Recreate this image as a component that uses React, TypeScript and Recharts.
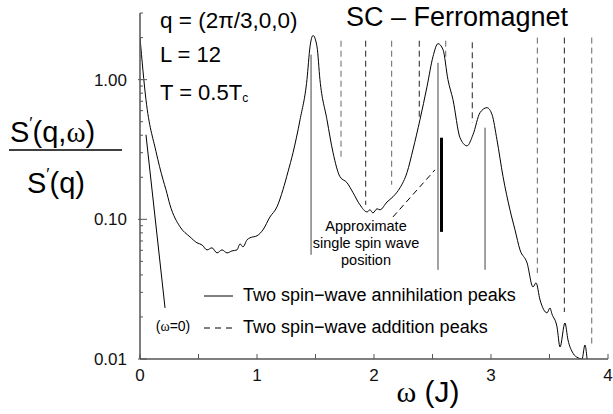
import React from 'react';
import { LineChart, Line, XAxis, YAxis } from 'recharts';

// main spectrum S'(q,w)/S'(q)
const spectrumOmega = [
  0.0, 0.051, 0.137, 0.197, 0.222, 0.256, 0.342, 0.427, 0.487, 0.53, 0.573, 0.615, 0.658, 0.701,
  0.744, 0.786, 0.829, 0.855, 0.88, 0.915, 0.94, 1.0, 1.051, 1.111, 1.171, 1.222, 1.265, 1.308,
  1.368, 1.427, 1.453, 1.479, 1.513, 1.538, 1.598, 1.65, 1.709, 1.769, 1.821, 1.88, 1.94, 1.966,
  1.991, 2.026, 2.051, 2.111, 2.162, 2.222, 2.282, 2.333, 2.393, 2.453, 2.504, 2.547, 2.59, 2.632,
  2.675, 2.735, 2.795, 2.846, 2.906, 2.966, 3.009, 3.051, 3.103, 3.162, 3.205, 3.248, 3.308, 3.359,
  3.385, 3.419, 3.479, 3.504, 3.521, 3.564, 3.59, 3.632, 3.658, 3.701, 3.744, 3.778, 3.803, 3.821,
];
const spectrumValue = [
  2.0, 0.719, 0.305, 0.192, 0.163, 0.127, 0.0884, 0.0749, 0.0679, 0.0656, 0.0604, 0.0625, 0.0575,
  0.0604, 0.0575, 0.0594, 0.0604, 0.0667, 0.0635, 0.0713, 0.0737, 0.0762, 0.0841, 0.104, 0.123,
  0.163, 0.219, 0.3, 0.517, 1.0, 1.72, 2.07, 1.72, 1.0, 0.517, 0.3, 0.202, 0.183, 0.155, 0.127,
  0.113, 0.117, 0.111, 0.119, 0.117, 0.133, 0.145, 0.168, 0.216, 0.315, 0.517, 0.891, 1.46, 1.81,
  1.64, 1.0, 0.719, 0.384, 0.336, 0.403, 0.58, 0.63, 0.561, 0.371, 0.202, 0.117, 0.0841, 0.0604,
  0.0488, 0.0328, 0.0351, 0.0265, 0.0214, 0.0232, 0.021, 0.017, 0.0122, 0.0181, 0.0137, 0.011,
  0.0102, 0.01, 0.0126, 0.01,
];

// w = 0 contribution
const zeroOmega = [0.051, 0.214];
const zeroValue = [0.403, 0.0232];

// two spin-wave annihilation peaks (solid)
const annihilationOmega = [1.462, 2.547, 2.949];
const annihilationTop = [1.51, 1.32, 0.453];
const annihilationBottom = [0.0557, 0.0435, 0.0435];

// two spin-wave addition peaks (dashed)
const additionOmega = [1.718, 1.929, 2.151, 2.387, 2.613, 2.84, 3.396, 3.627, 3.861];
const additionTop = [1.9, 1.9, 1.9, 1.9, 1.9, 1.85, 2.0, 2.0, 2.0];
const additionBottom = [0.281, 0.127, 0.177, 0.543, 1.46, 0.492, 0.0413, 0.0217, 0.0126];

// approximate single spin wave position
const singleSpinOmega = 2.577;
const singleSpinTop = 0.384;
const singleSpinBottom = 0.0813;
const pointerOmega = [2.162, 2.521];
const pointerValue = [0.104, 0.226];

const xTicks = [0, 0.5, 1, 1.5, 2, 2.5, 3, 3.5, 4];
const yMajor = [0.01, 0.1, 1];
const yTicks = [
  0.01, 0.02, 0.03, 0.04, 0.05, 0.06, 0.07, 0.08, 0.09, 0.1, 0.2, 0.3, 0.4, 0.5, 0.6, 0.7, 0.8,
  0.9, 1, 2, 3,
];
const yLabels = ['0.01', '0.10', '1.00'];

const sans = '"Liberation Sans", Arial, sans-serif';
const serif = '"Liberation Serif", "Times New Roman", serif';

const spectrum = spectrumOmega.map((w, i) => ({ w, s: spectrumValue[i] }));
const zeroLine = zeroOmega.map((w, i) => ({ w, s: zeroValue[i] }));
const pointer = pointerOmega.map((w, i) => ({ w, s: pointerValue[i] }));
const vertical = (w: number, top: number, bottom: number) => [
  { w, s: top },
  { w, s: bottom },
];

function YTick(props: any) {
  const { x, y, payload } = props;
  const idx = yMajor.findIndex((v) => Math.abs(v - payload.value) < 1e-9);
  const major = idx >= 0;
  return (
    <g>
      <line x1={x - (major ? 2 : 0)} x2={x + (major ? 7 : 3)} y1={y} y2={y} stroke="#555" strokeWidth={1} />
      {major && (
        <text x={x - 13} y={y} dy={6} textAnchor="end" fontFamily={sans} fontSize={17} fill="#111">
          {yLabels[idx]}
        </text>
      )}
    </g>
  );
}

function XTick(props: any) {
  const { x, y, payload } = props;
  const major = Number.isInteger(payload.value);
  return (
    <g>
      <line x1={x} x2={x} y1={y} y2={y - 5} stroke="#555" strokeWidth={1} />
      {major && (
        <text x={x} y={y + 22} textAnchor="middle" fontFamily={sans} fontSize={17} fill="#111">
          {payload.value}
        </text>
      )}
    </g>
  );
}

export default function App() {
  return (
    <div style={{ position: 'relative', width: 613, height: 414, background: '#fff' }}>
      <style>{'body{margin:0}'}</style>
      <LineChart width={613} height={414} margin={{ top: 13, right: 5, bottom: 25, left: 80 }}>
        <XAxis
          type="number"
          dataKey="w"
          domain={[0, 4]}
          ticks={xTicks}
          height={30}
          tickSize={0}
          tickMargin={0}
          tickLine={false}
          tick={<XTick />}
          stroke="#555"
          strokeWidth={1.5}
          allowDataOverflow
        />
        <YAxis
          type="number"
          dataKey="s"
          scale="log"
          domain={[0.01, 3]}
          ticks={yTicks}
          width={60}
          tickSize={0}
          tickMargin={0}
          tickLine={false}
          tick={<YTick />}
          stroke="#555"
          strokeWidth={1.5}
          allowDataOverflow
          interval={0}
        />
        {annihilationOmega.map((w, i) => (
          <Line
            key={'a' + i}
            data={vertical(w, annihilationTop[i], annihilationBottom[i])}
            dataKey="s"
            stroke="#444"
            strokeWidth={1}
            dot={false}
            isAnimationActive={false}
          />
        ))}
        {additionOmega.map((w, i) => (
          <Line
            key={'d' + i}
            data={vertical(w, additionTop[i], additionBottom[i])}
            dataKey="s"
            stroke={i % 2 === 0 ? '#666' : '#222'}
            strokeWidth={1}
            strokeDasharray="6 4"
            dot={false}
            isAnimationActive={false}
          />
        ))}
        <Line
          data={vertical(singleSpinOmega, singleSpinTop, singleSpinBottom)}
          dataKey="s"
          stroke="#000"
          strokeWidth={3}
          dot={false}
          isAnimationActive={false}
        />
        <Line
          data={pointer}
          dataKey="s"
          stroke="#000"
          strokeWidth={1}
          strokeDasharray="6 4"
          dot={false}
          isAnimationActive={false}
        />
        <Line data={zeroLine} dataKey="s" stroke="#000" strokeWidth={1} dot={false} isAnimationActive={false} />
        <Line
          data={spectrum}
          dataKey="s"
          type="monotone"
          stroke="#000"
          strokeWidth={1}
          dot={false}
          isAnimationActive={false}
        />
      </LineChart>
      <svg
        width={613}
        height={414}
        style={{ position: 'absolute', left: 0, top: 0, pointerEvents: 'none' }}
      >
        <g fontFamily={sans} fill="#000">
          <text x={160} y={28} fontSize={22.5}>
            q = (2π/3,0,0)
          </text>
          <text x={160} y={62} fontSize={22}>
            L = 12
          </text>
          <text x={160} y={100} fontSize={22}>
            T = 0.5T
            <tspan fontSize={12} dy={2}>
              c
            </tspan>
          </text>
          <text x={346} y={26} fontSize={27}>
            SC – Ferromagnet
          </text>

          <text x={10} y={142} fontSize={29}>
            S<tspan fontSize={17} dy={-13}>′</tspan>
            <tspan dy={13}>(q,</tspan>
            <tspan fontFamily={serif}>ω</tspan>)
          </text>
          <line x1={9} x2={122} y1={150} y2={150} stroke="#000" strokeWidth={1.5} />
          <text x={27} y={193} fontSize={29}>
            S<tspan fontSize={17} dy={-13}>′</tspan>
            <tspan dy={13}>(q)</tspan>
          </text>

          <text x={428} y={402} fontSize={30} textAnchor="middle">
            <tspan fontFamily={serif}>ω</tspan> (J)
          </text>

          <text x={366} y={231} fontSize={14.5} textAnchor="middle">
            Approximate
          </text>
          <text x={366} y={248} fontSize={14.5} textAnchor="middle">
            single spin wave
          </text>
          <text x={366} y={265} fontSize={14.5} textAnchor="middle">
            position
          </text>

          <text x={173} y={331} fontSize={14} textAnchor="middle">
            (<tspan fontFamily={serif}>ω</tspan>=0)
          </text>

          <line x1={204} x2={233} y1={296} y2={296} stroke="#000" strokeWidth={1} />
          <text x={243} y={301} fontSize={18}>
            Two spin−wave annihilation peaks
          </text>
          <line x1={204} x2={233} y1={328} y2={328} stroke="#000" strokeWidth={1} strokeDasharray="6 5" />
          <text x={243} y={333} fontSize={18}>
            Two spin−wave addition peaks
          </text>
        </g>
      </svg>
    </div>
  );
}
